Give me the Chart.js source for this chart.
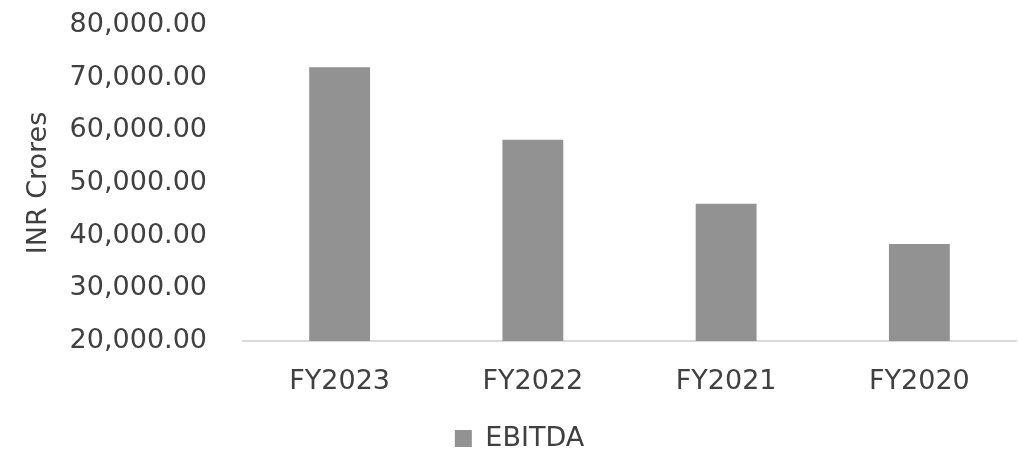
<!DOCTYPE html>
<html>
<head>
<meta charset="utf-8">
<script src="https://cdn.jsdelivr.net/npm/chart.js@4.4.0/dist/chart.umd.min.js"></script>
<style>
  html, body { margin: 0; padding: 0; background: #ffffff; }
  #wrap { width: 1018px; height: 452px; position: relative; }
</style>
</head>
<body>
<div id="wrap"><canvas id="chart" width="1018" height="452"></canvas></div>
<script>
// EBITDA by financial year (INR Crores)
const categories = ['FY2023', 'FY2022', 'FY2021', 'FY2020'];
const ebitda = [71980, 58230, 46070, 38430];
const seriesName = 'EBITDA';
const axisTitle = 'INR Crores';
const yMin = 20000;
const yMax = 80000;
const yStep = 10000;

const TEXT = '#404040';
const BAR = '#929292';
const FONT = "'DejaVu Sans', 'Open Sans', sans-serif";
const SIZE = 27;

function fmt(v) {
  const parts = v.toFixed(2).split('.');
  parts[0] = parts[0].replace(/\B(?=(\d{3})+(?!\d))/g, ',');
  return parts.join('.');
}

new Chart(document.getElementById('chart'), {
  type: 'bar',
  data: {
    labels: categories,
    datasets: [{
      label: seriesName,
      data: ebitda,
      backgroundColor: BAR,
      borderWidth: 0,
      categoryPercentage: 1,
      barPercentage: 0.315
    }]
  },
  options: {
    responsive: false,
    animation: false,
    devicePixelRatio: 1,
    layout: { padding: { top: 25, right: 2, bottom: -10, left: 23 } },
    plugins: {
      legend: {
        position: 'bottom',
        labels: {
          color: TEXT,
          font: { family: FONT, size: SIZE },
          boxWidth: 17,
          boxHeight: 17,
          padding: 0
        }
      },
      tooltip: { enabled: false }
    },
    scales: {
      x: {
        grid: { display: false, drawTicks: false },
        border: { display: true, color: '#d9d9d9', width: 2 },
        ticks: {
          color: TEXT,
          font: { family: FONT, size: SIZE },
          padding: 25
        },
        afterFit: s => { s.height = 84; }
      },
      y: {
        min: yMin,
        max: yMax,
        grid: { display: false, drawTicks: false },
        border: { display: false },
        ticks: {
          stepSize: yStep,
          color: TEXT,
          font: { family: FONT, size: SIZE },
          padding: 36,
          callback: v => fmt(v)
        },
        title: {
          display: true,
          text: axisTitle,
          color: TEXT,
          font: { family: FONT, size: SIZE },
          padding: 0
        },
        afterFit: s => {
          s.width = 220;
          s.paddingTop = 0;
          s.paddingBottom = 0;
        }
      }
    }
  }
});
</script>
</body>
</html>
